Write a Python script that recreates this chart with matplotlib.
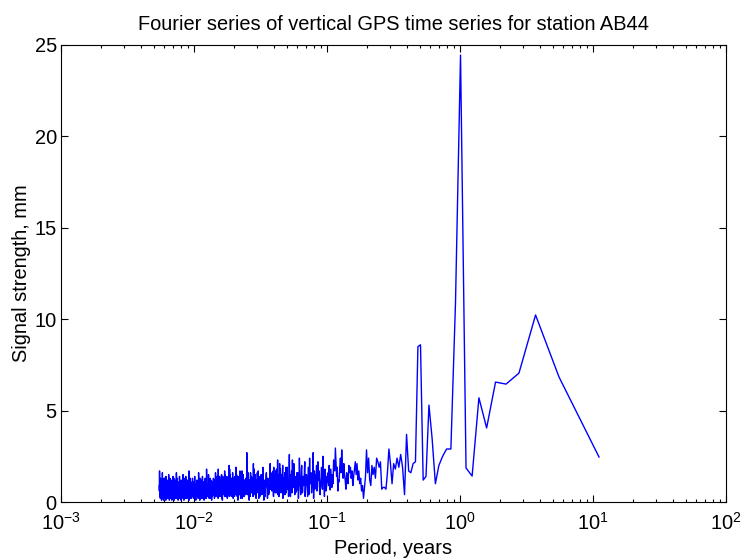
import numpy as np
import matplotlib
matplotlib.use("Agg")
import matplotlib.pyplot as plt
from matplotlib.ticker import LogLocator, NullFormatter

plt.rcParams["font.family"] = ["Liberation Sans", "DejaVu Sans"]
plt.rcParams["mathtext.fontset"] = "custom"
plt.rcParams["mathtext.rm"] = "Liberation Sans"
plt.rcParams["mathtext.it"] = "Liberation Sans:italic"
plt.rcParams["mathtext.bf"] = "Liberation Sans:bold"

# ---------------- data ----------------
record_years = 11.1  # length of the daily GPS record

# amplitudes (mm) for harmonics k = 1..110
amp_low = [2.46, 6.84, 10.23, 7.05, 6.45, 6.56, 4.05, 5.7, 1.42, 1.86,
           24.45, 10.9, 2.9, 2.9, 2.5, 2.0, 1.0, 3.5, 5.3, 1.4,
           1.2, 8.6, 8.5, 2.2, 2.1, 1.6, 1.7, 3.7, 0.4, 1.9,
           2.6, 1.9, 2.4, 1.8, 2.1, 1.0, 2.1, 2.9, 1.6, 0.7,
           0.8, 0.8, 0.7, 2.2, 1.9, 2.2, 2.4, 1.3, 1.9, 1.5,
           2.0, 0.9, 1.2, 2.4, 1.6, 2.85, 1.4, 0.8, 0.2, 0.9,
           0.6, 1.3, 1.0, 1.7, 1.2, 2.1, 1.5, 2.2, 1.8, 1.4,
           0.9, 1.7, 1.3, 1.9, 1.6, 2.0, 1.0, 1.4, 1.6, 0.7,
           1.2, 1.5, 2.1, 1.3, 1.8, 2.85, 1.6, 2.4, 1.9, 1.1,
           1.2, 0.6, 1.9, 1.4, 2.2, 2.95, 1.7, 2.0, 2.3, 1.0,
           1.5, 0.8, 1.3, 1.8, 0.66, 1.2, 2.0, 0.9, 1.6, 1.1]

# amplitudes for odd harmonics k = 111..299
amp_b = [1.4, 0.6, 1.8, 1.1, 2.5, 0.9, 1.3, 0.4, 1.7, 1.2, 0.8, 2.0, 1.5, 0.7, 1.1, 2.7, 1.0, 0.5, 1.6, 1.3,
         0.9, 1.9, 0.3, 1.2, 1.5, 0.8, 2.2, 1.0, 1.4, 0.6, 1.1, 1.8, 0.4, 1.3, 2.4, 0.9, 1.2, 0.7, 1.6, 1.0,
         0.5, 1.4, 1.1, 2.1, 0.8, 1.3, 0.6, 1.7, 1.0, 0.3, 1.5, 2.6, 0.9, 1.2, 0.7, 1.9, 1.1, 0.5, 1.4, 0.8,
         1.6, 1.0, 0.4, 1.3, 2.0, 0.7, 1.1, 1.5, 0.9, 1.8, 0.6, 1.2, 0.3, 1.4, 1.0, 2.3, 0.8, 1.1, 0.5, 1.7,
         0.9, 1.3, 0.6, 1.0, 1.9, 0.4, 1.2, 0.8, 1.5, 1.1, 0.7, 1.6, 0.9, 2.1, 1.0]

# amplitudes for even harmonics k = 112..298
amp_b2 = [0.8, 1.5, 0.3, 1.2, 0.7, 1.9, 1.0, 0.5, 1.4, 2.2, 0.6, 1.1, 0.9, 1.7, 0.2, 1.3, 0.8, 1.6, 1.0, 2.4,
          0.4, 1.2, 0.7, 1.5, 1.0, 0.3, 1.8, 0.9, 1.3, 0.5, 2.0, 1.1, 0.7, 1.4, 0.9, 0.2, 1.6, 1.0, 0.6, 1.3,
          1.1, 0.4, 1.7, 0.8, 1.2, 2.3, 0.5, 1.0, 1.4, 0.7, 0.9, 1.6, 0.3, 1.2, 0.8, 1.5, 0.6, 1.9, 1.0, 0.4,
          1.3, 0.7, 1.1, 0.2, 1.6, 0.9, 1.2, 0.5, 1.4, 1.0, 2.1, 0.6, 0.9, 1.5, 0.4, 1.1, 0.7, 1.8, 0.8, 1.2,
          0.5, 1.4, 0.9, 1.0, 0.3, 1.7, 0.8, 1.2, 0.6, 1.5, 1.1, 0.7, 1.3, 0.9]

# amplitudes for harmonics k = 301..797 (every 4th)
amp_c = [0.9, 0.4, 1.3, 0.7, 1.6, 1.0, 0.3, 1.2, 0.8, 1.9, 0.6, 1.1, 0.5, 1.4, 0.9, 0.2, 1.7, 1.0, 0.6, 1.2,
         0.8, 1.5, 0.4, 1.0, 2.1, 0.7, 1.3, 0.5, 0.9, 1.6, 0.3, 1.1, 0.8, 1.4, 0.6, 1.8, 2.7, 0.9, 0.4, 1.2,
         0.7, 1.0, 0.5, 1.5, 0.9, 0.2, 1.3, 0.8, 1.1, 0.6, 1.7, 0.4, 1.0, 0.7, 1.4, 0.9, 0.3, 1.2, 0.6, 1.9,
         0.8, 0.5, 1.1, 0.7, 1.3, 0.4, 0.9, 1.6, 0.6, 1.0, 0.3, 1.2, 0.8, 1.5, 0.5, 0.9, 2.0, 0.7, 1.1, 0.4,
         1.0, 0.6, 1.4, 0.8, 0.3, 1.2, 0.9, 0.5, 1.7, 0.7, 1.0, 0.4, 1.3, 0.8, 0.6, 1.1, 0.2, 1.5, 0.9, 0.7,
         1.2, 0.5, 0.8, 1.4, 0.6, 1.0, 0.3, 1.8, 0.7, 1.1, 0.5, 0.9, 1.3, 0.4, 1.0, 0.7, 1.6, 0.8, 0.5, 1.2,
         0.6, 1.0, 0.4, 1.3, 0.8]

# amplitudes for harmonics k = 303..799 (every 4th)
amp_c2 = [0.5, 1.1, 0.2, 0.9, 1.4, 0.6, 1.0, 0.1, 1.3, 0.7, 0.4, 1.5, 0.8, 0.3, 1.2, 0.9, 0.5, 1.6, 0.7, 0.2,
          1.1, 0.6, 1.8, 0.8, 0.3, 1.0, 0.5, 1.4, 0.7, 0.9, 1.2, 0.1, 0.8, 1.6, 0.4, 1.0, 0.6, 1.3, 0.9, 0.5,
          1.2, 0.3, 0.8, 1.1, 0.6, 1.7, 0.4, 0.9, 0.2, 1.0, 0.7, 1.3, 0.5, 0.8, 0.1, 1.1, 0.6, 1.5, 0.9, 0.4,
          1.0, 1.4, 0.3, 0.7, 0.9, 0.2, 1.2, 0.5, 0.8, 1.3, 0.6, 1.0, 0.4, 0.7, 1.8, 0.3, 0.9, 1.1, 0.5, 0.8,
          0.2, 1.2, 0.6, 1.0, 0.4, 0.8, 1.5, 0.3, 0.9, 0.6, 1.1, 0.5, 0.7, 1.4, 0.1, 1.0, 0.8, 0.4, 1.2, 0.6,
          0.9, 0.3, 1.3, 0.7, 1.0, 0.5, 0.8, 0.2, 1.1, 0.6, 1.4, 0.4, 0.9, 0.7, 0.3, 1.2, 0.5, 1.0, 0.8, 0.2,
          1.1, 0.7, 0.4, 0.9, 0.6]

# amplitudes for harmonics k = 803..2021 (every 6th)
amp_d = [0.7, 0.3, 1.1, 0.5, 0.9, 0.2, 1.3, 0.6, 0.8, 0.4, 1.5, 0.7, 0.3, 1.0, 0.6, 1.8, 0.5, 0.9, 0.2, 1.2,
         0.6, 0.8, 0.4, 1.1, 0.7, 0.3, 1.4, 0.5, 0.9, 0.6, 0.2, 1.0, 0.7, 1.3, 0.4, 0.8, 0.5, 1.6, 0.6, 0.3,
         0.9, 0.5, 1.2, 0.4, 0.7, 1.0, 0.3, 0.8, 0.6, 1.4, 0.5, 0.2, 1.1, 0.7, 0.4, 0.9, 1.3, 0.6, 0.3, 0.8,
         0.5, 1.0, 0.7, 0.2, 1.2, 0.6, 0.9, 0.4, 1.7, 0.5, 0.8, 0.3, 1.0, 0.6, 1.2, 0.4, 0.7, 0.9, 0.2, 1.1,
         0.6, 0.4, 0.9, 1.3, 0.5, 0.8, 0.3, 1.1, 0.6, 0.7, 1.5, 0.4, 0.9, 0.2, 0.7, 1.0, 0.5, 1.2, 0.3, 0.8,
         0.6, 1.0, 0.4, 0.7, 1.4, 0.3, 0.9, 0.5, 0.8, 0.2, 1.1, 0.6, 0.4, 1.3, 0.7, 0.5, 0.9, 1.6, 0.4, 0.6,
         1.0, 0.3, 0.8, 0.5, 1.2, 0.7, 0.2, 0.9, 0.6, 1.1, 0.4, 0.8, 1.4, 0.5, 0.3, 1.0, 0.6, 0.7, 1.2, 0.4,
         0.8, 0.5, 1.1, 0.3, 0.7, 0.9, 0.4, 1.3, 0.6, 0.2, 1.0, 0.5, 0.8, 1.5, 0.4, 0.7, 0.3, 1.1, 0.6, 0.9,
         0.4, 1.2, 0.6, 0.8, 0.3, 1.0, 0.5, 1.4, 0.7, 0.2, 0.9, 0.6, 1.1, 0.4, 0.8, 1.3, 0.5, 0.7, 0.3, 1.0,
         0.6, 0.9, 0.4, 1.2, 0.5, 0.8, 1.6, 0.3, 0.7, 1.0, 0.5, 0.2, 1.1, 0.6, 0.9, 0.4, 1.3, 0.7, 0.5, 0.8,
         1.2, 0.4, 1.7, 0.6]

# amplitudes for harmonics k = 806..2024 (every 6th)
amp_d2 = [0.4, 0.9, 0.1, 0.6, 1.2, 0.3, 0.8, 0.5, 0.2, 1.0, 0.6, 0.3, 0.9, 0.4, 1.1, 0.2, 0.7, 0.5, 1.3, 0.3,
          0.8, 0.1, 0.6, 0.9, 0.4, 1.0, 0.2, 0.7, 0.5, 1.2, 0.3, 0.8, 0.6, 0.1, 0.9, 0.4, 1.1, 0.5, 0.2, 0.7,
          0.3, 1.0, 0.6, 0.4, 0.8, 0.1, 0.9, 0.5, 1.2, 0.3, 0.7, 0.4, 0.2, 1.0, 0.6, 0.8, 0.3, 1.1, 0.5, 0.2,
          0.9, 0.4, 0.6, 1.3, 0.2, 0.7, 0.5, 0.1, 1.0, 0.4, 0.8, 0.6, 0.3, 0.9, 0.2, 1.1, 0.5, 0.7, 0.4, 1.4,
          0.3, 0.6, 0.2, 0.9, 0.5, 1.0, 0.1, 0.7, 0.4, 0.8, 0.3, 1.2, 0.6, 0.2, 0.9, 0.5, 0.7, 0.1, 1.0, 0.4,
          0.8, 0.3, 0.6, 1.1, 0.2, 0.5, 0.9, 0.4, 0.7, 0.1, 1.0, 0.6, 0.3, 0.8, 0.5, 1.2, 0.2, 0.6, 0.9, 0.3,
          0.5, 1.0, 0.2, 0.7, 0.4, 0.9, 0.1, 0.6, 1.3, 0.3, 0.8, 0.5, 0.2, 1.0, 0.4, 0.7, 0.6, 0.1, 0.9, 0.3,
          1.1, 0.4, 0.6, 0.2, 0.8, 0.5, 1.0, 0.3, 0.7, 0.1, 0.9, 0.4, 1.2, 0.6, 0.2, 0.8, 0.5, 0.3, 1.0, 0.6,
          0.2, 0.9, 0.4, 0.7, 1.1, 0.3, 0.6, 0.1, 0.8, 0.5, 1.0, 0.2, 0.7, 0.4, 0.9, 0.6, 0.3, 1.3, 0.5, 0.1,
          0.8, 0.4, 1.0, 0.2, 0.6, 0.9, 0.3, 0.7, 0.5, 1.1, 0.1, 0.8, 0.4, 0.6, 1.0, 0.3, 0.7, 0.2, 0.9, 0.5,
          0.3, 1.0, 0.6, 0.9]

harm = np.concatenate([np.arange(1, 111),
                       np.arange(111, 300, 2), np.arange(112, 299, 2),
                       np.arange(301, 798, 4), np.arange(303, 800, 4),
                       np.arange(803, 2022, 6), np.arange(806, 2025, 6)])
amp = np.concatenate([amp_low, amp_b, amp_b2, amp_c, amp_c2, amp_d, amp_d2])
order = np.argsort(harm)
harm = harm[order]
amp = amp[order]
period = record_years / harm

title = "Fourier series of vertical GPS time series for station AB44"
xlabel = "Period, years"
ylabel = "Signal strength, mm"
yticks = [0, 5, 10, 15, 20, 25]

# ---------------- plot ----------------
FS = 14.4
fig = plt.figure(figsize=(7.43, 5.60), dpi=100)
ax = fig.add_axes([61/743, 58/560, 665/743, 457/560])
ax.plot(period, amp, color=(0, 0, 1), lw=1.0)
ax.set_xscale("log")
ax.set_xlim(1e-3, 1e2)
ax.set_ylim(0, 25)
ax.set_yticks(yticks)
ax.xaxis.set_major_locator(LogLocator(base=10, numticks=10))
ax.xaxis.set_minor_locator(LogLocator(base=10, subs=np.arange(2, 10), numticks=10))
ax.xaxis.set_minor_formatter(NullFormatter())
ax.tick_params(which="both", direction="in", top=True, right=True, labelsize=FS, colors="black")
ax.tick_params(axis="x", which="major", pad=7)
ax.tick_params(axis="y", which="major", pad=3)
ax.tick_params(which="major", length=5, width=0.8)
ax.tick_params(which="minor", length=2.5, width=0.8)
for s in ax.spines.values():
    s.set_linewidth(0.8)
ax.set_title(title, fontsize=FS, pad=11)
ax.set_xlabel(xlabel, fontsize=FS, labelpad=4)
ax.set_ylabel(ylabel, fontsize=FS, labelpad=2.5)
fig.savefig("out.png", dpi=100)
